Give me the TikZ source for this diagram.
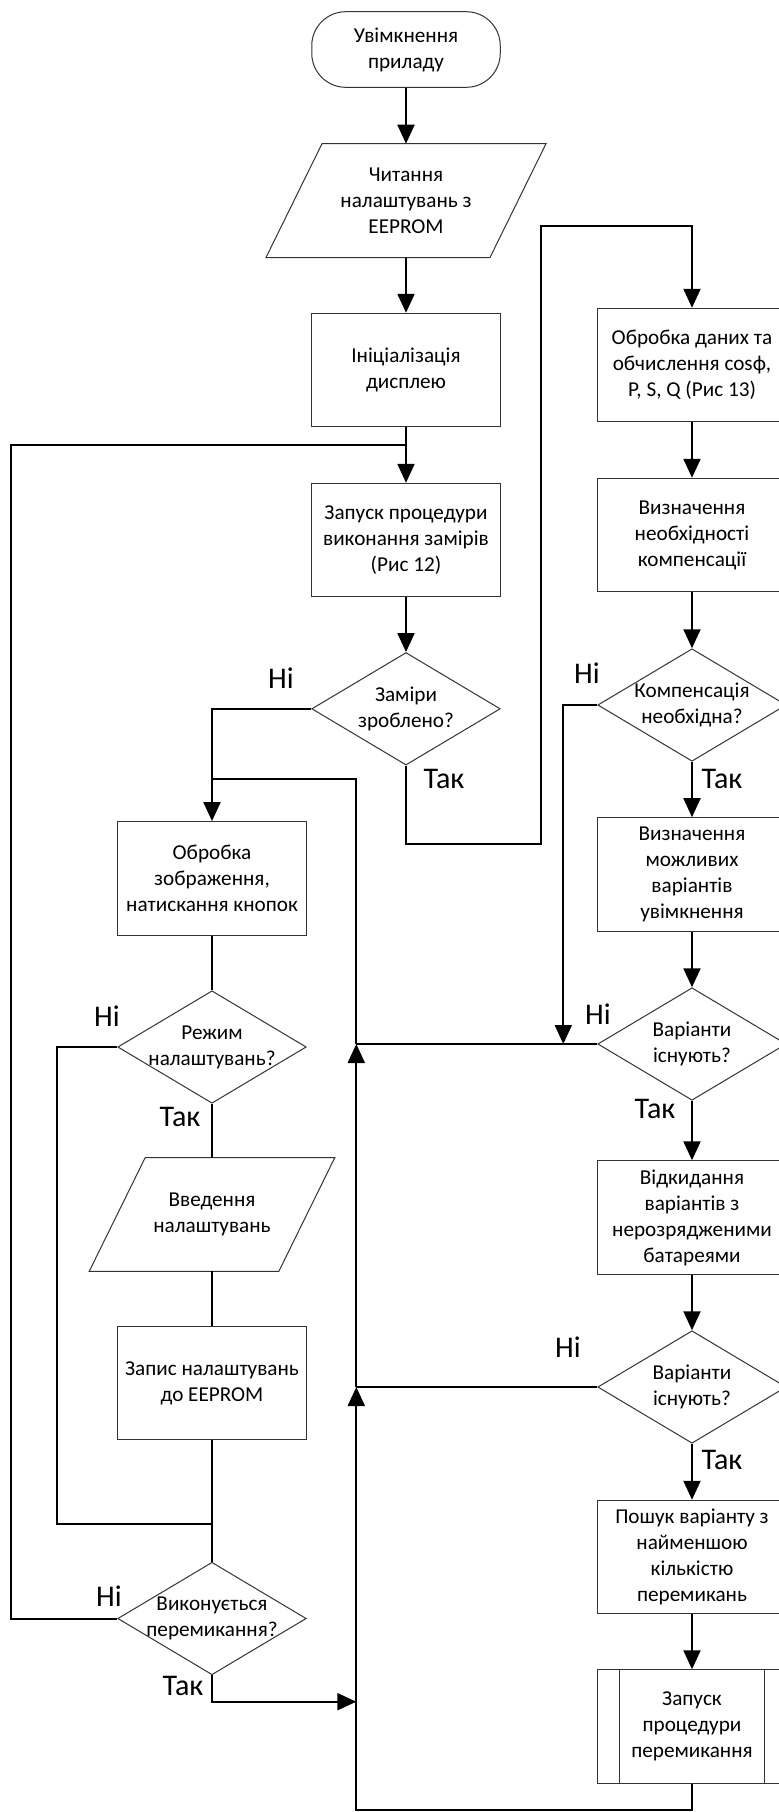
\documentclass[tikz,border=0pt]{standalone}
\usepackage{fontspec}
\setmainfont{Carlito}
\usetikzlibrary{shapes.geometric,arrows.meta}
\newcommand{\boxfnt}{\fontsize{10.6}{13}\selectfont}
\newcommand{\ansfnt}{\fontsize{15}{18}\selectfont}
\tikzset{
  shp/.style={draw=black!80, line width=0.5pt, align=center, font=\boxfnt, inner sep=1pt},
  proc/.style={shp, rectangle, minimum width=94.25pt, minimum height=56.7pt},
  term/.style={shp, rectangle, rounded corners=17pt, minimum width=94.25pt, minimum height=37.8pt},
  io/.style={shp, draw=none, rectangle, minimum width=#1, minimum height=56.4pt,
    append after command={\pgfextra{\draw[black!80, line width=0.5pt]
      ([xshift=14pt]\tikzlastnode.north west) -- ([xshift=14pt]\tikzlastnode.north east)
      -- ([xshift=-14pt]\tikzlastnode.south east) -- ([xshift=-14pt]\tikzlastnode.south west) -- cycle;}}},
  io/.default=111.5pt,
  decision/.style={shp, diamond, minimum width=94.25pt, minimum height=56.25pt, inner sep=0pt},
  dtext/.style={font=\boxfnt, align=center, inner sep=0pt},
  subproc/.style={proc, path picture={
    \draw[black!80, line width=0.5pt]
      ([xshift=11pt]path picture bounding box.north west) -- ([xshift=11pt]path picture bounding box.south west)
      ([xshift=-11pt]path picture bounding box.north east) -- ([xshift=-11pt]path picture bounding box.south east);}},
  flow/.style={line width=1pt, -{Triangle[length=9.5pt,width=8.5pt]}},
  link/.style={line width=1pt},
  ans/.style={font=\ansfnt, inner sep=0pt}
}

\begin{document}
\begin{tikzpicture}[x=0.5pt,y=-0.5pt]
  \useasboundingbox (0,0) rectangle (778,1812);

  % main column
  \node[term] (start) at (406,49.5) {Увімкнення\\приладу};
  \node[io] (read) at (406,200.6) {Читання\\налаштувань з\\EEPROM};
  \node[proc] (init) at (406,370) {Ініціалізація\\дисплею};
  \node[proc] (meas) at (406,540) {Запуск процедури\\виконання замірів\\(Рис 12)};
  \node[decision, label={[dtext]center:Заміри\\зроблено?}] (done) at (406,708.8) {};

  % right column
  \node[proc] (calc) at (692,365) {Обробка даних та\\обчислення cosф,\\P, S, Q (Рис 13)};
  \node[proc] (need) at (692,535) {Визначення\\необхідності\\компенсації};
  \node[decision, label={[dtext]center:Компенсація\\необхідна?}] (comp) at (692,705) {};
  \node[proc] (vars) at (692,874.4) {Визначення\\можливих\\варіантів\\увімкнення};
  \node[decision, label={[dtext]center:Варіанти\\існують?}] (ex1) at (692,1044) {};
  \node[proc] (drop) at (692,1217.5) {Відкидання\\варіантів з\\нерозрядженими\\батареями};
  \node[decision, label={[dtext]center:Варіанти\\існують?}] (ex2) at (692,1387) {};
  \node[proc] (find) at (692,1557) {Пошук варіанту з\\найменшою\\кількістю\\перемикань};
  \node[subproc] (swp) at (692,1726.5) {Запуск\\процедури\\перемикання};

  % left column
  \node[proc] (disp) at (212,878.3) {Обробка\\зображення,\\натискання кнопок};
  \node[decision, label={[dtext]center:Режим\\налаштувань?}] (mode) at (212,1047) {};
  \node[io=94.3pt] (inp) at (212,1214.5) {Введення\\налаштувань};
  \node[proc] (save) at (212,1383) {Запис налаштувань\\до EEPROM};
  \node[decision, label={[dtext]center:Виконується\\перемикання?}] (act) at (212,1618.5) {};

  % junctions
  \coordinate (j1) at (406,445);
  \coordinate (j2) at (212,779);
  \coordinate (j3) at (212,1524);
  \coordinate (k1) at (356.3,1044);
  \coordinate (k2) at (356.3,1387);
  \coordinate (k3) at (356.3,1701.7);

  % answers
  \node[ans] (n1) at (281,678) {Ні};
  \node[ans] (y1) at (444,779) {Так};
  \node[ans] (n2) at (587,673) {Ні};
  \node[ans] (y2) at (722,779) {Так};
  \node[ans] (n3) at (107,1016) {Ні};
  \node[ans] (y3) at (180,1117) {Так};
  \node[ans] (n4) at (598,1014) {Ні};
  \node[ans] (y4) at (655,1109) {Так};
  \node[ans] (n5) at (568,1347) {Ні};
  \node[ans] (y5) at (722,1460) {Так};
  \node[ans] (n6) at (109,1596) {Ні};
  \node[ans] (y6) at (183,1686) {Так};

  % connectors
  \draw[flow] (start) -- (read);
  \draw[flow] (read) -- (init);
  \draw[link] (init) -- (j1);
  \draw[flow] (j1) -- (meas);
  \draw[flow] (meas) -- (done);
  \draw[flow] (done.west) -| (disp.north);
  \draw[flow] (done.south) |- (541,844.3) -- (541,225.5) -| (calc.north);

  \draw[flow] (calc) -- (need);
  \draw[flow] (need) -- (comp);
  \draw[flow] (comp) -- (vars);
  \draw[flow] (comp.west) -| (563.3,1044);
  \draw[flow] (vars) -- (ex1);
  \draw[flow] (ex1) -- (drop);
  \draw[link] (ex1.west) -- (k1);
  \draw[flow] (drop) -- (ex2);
  \draw[flow] (ex2) -- (find);
  \draw[link] (ex2.west) -- (k2);
  \draw[flow] (find) -- (swp);

  \draw[link] (disp) -- (mode);
  \draw[link] (mode) -- (inp);
  \draw[link] (inp) -- (save);
  \draw[link] (save) -- (act);
  \draw[link] (mode.west) -| (57,1524) -- (j3);
  \draw[link] (act.west) -| (11,445) -- (j1);
  \draw[flow] (act.south) |- (k3);

  \draw[flow] (swp.south) |- (356.3,1810) -- (k2);
  \draw[flow] (k2) -- (k1);
  \draw[link] (k1) |- (j2);
\end{tikzpicture}
\end{document}
